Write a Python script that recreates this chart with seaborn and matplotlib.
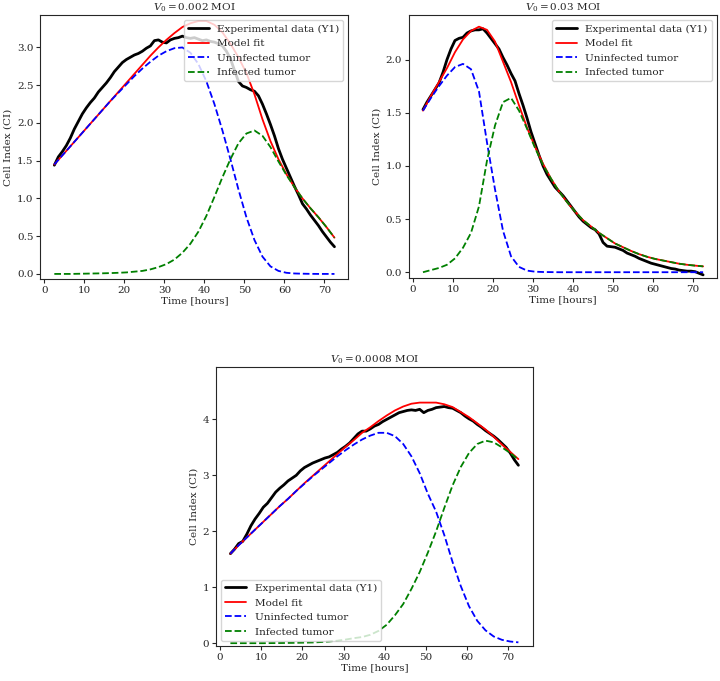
import numpy as np
import pandas as pd
import matplotlib
matplotlib.use("Agg")
import matplotlib.pyplot as plt
import seaborn as sns

# time grids (hours)
t_exp = np.arange(2.5, 73.0, 1.0)      # experimental readout, every hour
t_mod = np.arange(2.5, 73.0, 2.0)      # model output, every 2 hours

# ---- V0 = 0.002 MOI ----
exp_a = [1.44, 1.55, 1.62, 1.70, 1.80, 1.92, 2.02, 2.12, 2.20, 2.27, 2.33, 2.41, 2.47, 2.53, 2.60,
         2.68, 2.74, 2.80, 2.84, 2.87, 2.90, 2.92, 2.95, 2.99, 3.02, 3.09, 3.10, 3.07, 3.06, 3.10,
         3.12, 3.13, 3.15, 3.13, 3.12, 3.13, 3.11, 3.09, 3.10, 3.08, 3.07, 3.05, 3.02, 2.95, 2.85,
         2.70, 2.55, 2.49, 2.47, 2.44, 2.42, 2.36, 2.25, 2.12, 1.98, 1.83, 1.66, 1.52, 1.40, 1.28,
         1.16, 1.05, 0.93, 0.86, 0.78, 0.71, 0.64, 0.56, 0.49, 0.42, 0.36]
fit_a = [1.45, 1.57, 1.69, 1.81, 1.93, 2.05, 2.17, 2.29, 2.41, 2.53, 2.65, 2.77, 2.89, 3.00, 3.10,
         3.19, 3.27, 3.32, 3.35, 3.35, 3.30, 3.20, 3.05, 2.87, 2.66, 2.38, 2.05, 1.76, 1.52, 1.32,
         1.15, 1.00, 0.87, 0.75, 0.62, 0.48]
unf_a = [1.45, 1.57, 1.69, 1.81, 1.93, 2.05, 2.17, 2.29, 2.40, 2.51, 2.62, 2.72, 2.81, 2.89, 2.95,
         2.99, 3.00, 2.93, 2.78, 2.55, 2.25, 1.90, 1.52, 1.12, 0.75, 0.45, 0.23, 0.10, 0.04, 0.015,
         0.006, 0.003, 0.001, 0.0, 0.0, 0.0]
inf_a = [0.0, 0.0, 0.0, 0.002, 0.004, 0.006, 0.008, 0.011, 0.015, 0.02, 0.03, 0.04, 0.06, 0.09, 0.13,
         0.19, 0.28, 0.40, 0.56, 0.77, 1.02, 1.28, 1.52, 1.73, 1.86, 1.90, 1.83, 1.68, 1.49, 1.31,
         1.15, 1.00, 0.87, 0.75, 0.62, 0.48]

# ---- V0 = 0.03 MOI ----
exp_b = [1.53, 1.60, 1.66, 1.72, 1.78, 1.88, 2.00, 2.10, 2.18, 2.20, 2.21, 2.25, 2.27, 2.28, 2.28,
         2.29, 2.25, 2.20, 2.15, 2.10, 2.02, 1.95, 1.87, 1.80, 1.68, 1.57, 1.45, 1.32, 1.21, 1.10,
         1.00, 0.92, 0.86, 0.80, 0.76, 0.72, 0.67, 0.62, 0.57, 0.52, 0.48, 0.45, 0.42, 0.40, 0.36,
         0.28, 0.245, 0.24, 0.235, 0.22, 0.205, 0.18, 0.165, 0.15, 0.13, 0.115, 0.10, 0.085, 0.075, 0.065,
         0.055, 0.045, 0.035, 0.03, 0.02, 0.015, 0.01, 0.01, 0.005, -0.01, -0.025]
fit_b = [1.52, 1.66, 1.79, 1.92, 2.07, 2.19, 2.27, 2.31, 2.28, 2.17, 1.98, 1.79, 1.57, 1.36, 1.18,
         1.02, 0.88, 0.76, 0.66, 0.57, 0.49, 0.43, 0.37, 0.32, 0.27, 0.235, 0.20, 0.17, 0.145, 0.125,
         0.11, 0.095, 0.08, 0.07, 0.062, 0.055]
unf_b = [1.52, 1.64, 1.75, 1.85, 1.93, 1.96, 1.91, 1.70, 1.22, 0.78, 0.39, 0.15, 0.05, 0.015, 0.005,
         0.002, 0.001, 0.0, 0.0, 0.0, 0.0, 0.0, 0.0, 0.0, 0.0, 0.0, 0.0, 0.0, 0.0, 0.0,
         0.0, 0.0, 0.0, 0.0, 0.0, 0.0]
inf_b = [0.0, 0.02, 0.04, 0.07, 0.13, 0.23, 0.37, 0.62, 1.05, 1.38, 1.60, 1.64, 1.52, 1.35, 1.17,
         1.01, 0.88, 0.76, 0.66, 0.57, 0.49, 0.43, 0.37, 0.32, 0.27, 0.235, 0.20, 0.17, 0.145, 0.125,
         0.11, 0.095, 0.08, 0.07, 0.062, 0.055]

# ---- V0 = 0.0008 MOI ----
exp_c = [1.60, 1.68, 1.78, 1.82, 1.95, 2.10, 2.22, 2.32, 2.43, 2.50, 2.60, 2.70, 2.77, 2.83, 2.90,
         2.95, 3.00, 3.08, 3.14, 3.18, 3.22, 3.25, 3.28, 3.31, 3.33, 3.37, 3.41, 3.47, 3.52, 3.58,
         3.66, 3.74, 3.79, 3.79, 3.83, 3.88, 3.91, 3.96, 4.00, 4.04, 4.08, 4.12, 4.14, 4.16, 4.17,
         4.16, 4.18, 4.12, 4.16, 4.18, 4.21, 4.22, 4.23, 4.21, 4.20, 4.16, 4.12, 4.06, 4.01, 3.97,
         3.91, 3.86, 3.80, 3.75, 3.70, 3.64, 3.57, 3.50, 3.40, 3.28, 3.18]
fit_c = [1.60, 1.75, 1.89, 2.03, 2.17, 2.31, 2.45, 2.58, 2.72, 2.86, 2.99, 3.12, 3.25, 3.38, 3.51,
         3.63, 3.76, 3.86, 3.97, 4.07, 4.16, 4.23, 4.28, 4.30, 4.30, 4.30, 4.27, 4.22, 4.13, 4.04,
         3.93, 3.82, 3.69, 3.55, 3.42, 3.29]
unf_c = [1.60, 1.75, 1.89, 2.03, 2.17, 2.31, 2.45, 2.58, 2.72, 2.85, 2.98, 3.10, 3.22, 3.34, 3.45,
         3.55, 3.64, 3.71, 3.76, 3.76, 3.70, 3.56, 3.34, 3.04, 2.67, 2.35, 1.93, 1.45, 1.02, 0.66,
         0.40, 0.23, 0.12, 0.06, 0.03, 0.015]
inf_c = [0.0, 0.0, 0.0, 0.0, 0.0, 0.002, 0.003, 0.005, 0.007, 0.01, 0.013, 0.02, 0.03, 0.045, 0.065,
         0.09, 0.11, 0.15, 0.22, 0.33, 0.50, 0.70, 0.97, 1.27, 1.62, 2.00, 2.42, 2.82, 3.15, 3.40,
         3.56, 3.62, 3.59, 3.50, 3.40, 3.28]

panels = [
    ("0.002", exp_a, fit_a, unf_a, inf_a, (-0.07, 3.43), "upper right"),
    ("0.03", exp_b, fit_b, unf_b, inf_b, (-0.053, 2.42), "upper right"),
    ("0.0008", exp_c, fit_c, unf_c, inf_c, (-0.05, 4.94), "lower left"),
]

sns.set_style("ticks")
plt.rcParams["font.family"] = ["DejaVu Serif"]
plt.rcParams["mathtext.fontset"] = "dejavuserif"
plt.rcParams["font.size"] = 7.5

fig = plt.figure(figsize=(7.2, 6.81), dpi=100)
positions = [
    [0.056, 0.590, 0.428, 0.388],
    [0.568, 0.592, 0.428, 0.386],
    [0.300, 0.0514, 0.440, 0.410],
]

for pos, (moi, exp, fit, unf, inf, ylim, loc) in zip(positions, panels):
    ax = fig.add_axes(pos)
    sns.lineplot(x=t_exp, y=exp, ax=ax, color="black", linewidth=2.0,
                 label="Experimental data (Y1)")
    sns.lineplot(x=t_mod, y=fit, ax=ax, color="red", linewidth=1.3, label="Model fit")
    sns.lineplot(x=t_mod, y=unf, ax=ax, color="blue", linewidth=1.3, linestyle="--",
                 label="Uninfected tumor")
    sns.lineplot(x=t_mod, y=inf, ax=ax, color="green", linewidth=1.3, linestyle="--",
                 label="Infected tumor")
    ax.set_ylim(*ylim)
    ax.set_xticks(range(0, 80, 10))
    ax.set_xlabel("Time [hours]", labelpad=1)
    ax.set_ylabel("Cell Index (CI)", labelpad=3)
    ax.set_title(r"$V_0 = %s$ MOI" % moi, pad=3, fontsize=7.5)
    ax.tick_params(labelsize=7.5, length=3, pad=2)
    for s in ax.spines.values():
        s.set_linewidth(0.8)
    ax.legend(loc=loc, fontsize=7.5, framealpha=0.8)

fig.savefig("out.png", dpi=100)
